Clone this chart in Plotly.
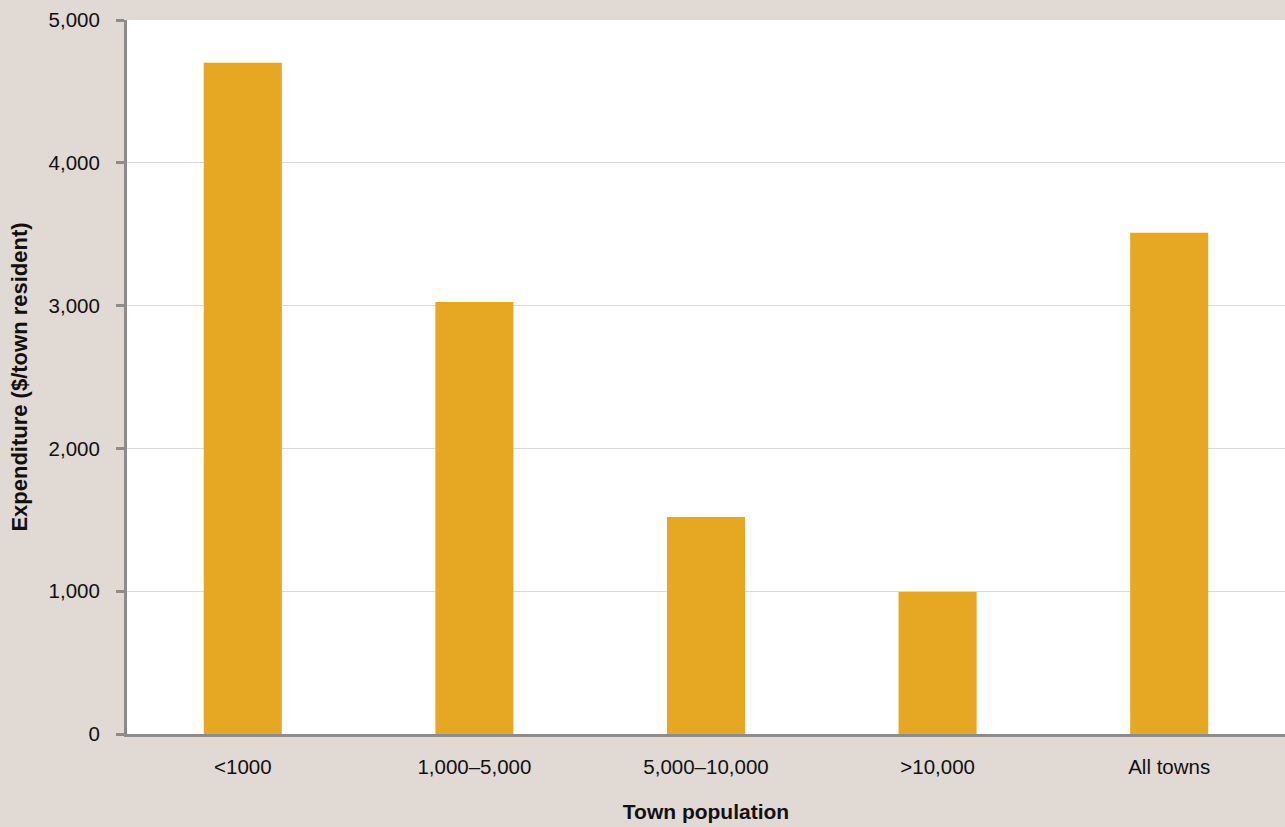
import plotly.graph_objects as go

# Expenditure per town resident by town population band
categories = ["<1000", "1,000–5,000", "5,000–10,000", ">10,000", "All towns"]
expenditure = [4700, 3025, 1520, 995, 3510]

y_ticks = [0, 1000, 2000, 3000, 4000, 5000]
y_tick_labels = ["0", "1,000", "2,000", "3,000", "4,000", "5,000"]

BG = "#e0d9d4"
BAR = "#e6a723"
AXIS = "#8c8c8c"
GRID = "#d9d9d9"
FONT = "Liberation Sans, Arial, sans-serif"

fig = go.Figure(
    go.Bar(
        x=categories,
        y=expenditure,
        marker=dict(color=BAR, line=dict(width=0)),
        hoverinfo="x+y",
    )
)

fig.update_layout(
    width=1285,
    height=827,
    paper_bgcolor=BG,
    plot_bgcolor="white",
    margin=dict(l=127, r=0, t=20, b=93),
    bargap=0.663,
    showlegend=False,
    font=dict(family=FONT, size=20.5, color="#111111"),
)

fig.update_xaxes(
    showline=True,
    linecolor=AXIS,
    linewidth=3,
    ticks="",
    showgrid=False,
    tickfont=dict(size=20.5),
    ticklabelstandoff=12,
    title=dict(
        text="<b>Town population</b>",
        font=dict(size=21),
        standoff=28,
    ),
)

fig.update_yaxes(
    range=[0, 5000],
    tickvals=y_ticks,
    ticktext=y_tick_labels,
    showline=True,
    linecolor=AXIS,
    linewidth=3,
    ticks="outside",
    ticklen=8,
    tickwidth=3,
    tickcolor=AXIS,
    showgrid=True,
    gridcolor=GRID,
    gridwidth=1,
    zeroline=False,
    tickfont=dict(size=20.5),
    ticklabelstandoff=12,
    title=dict(
        text="<b>Expenditure ($/town resident)</b>",
        font=dict(size=22),
        standoff=15,
    ),
)

fig.write_html("out.html")
